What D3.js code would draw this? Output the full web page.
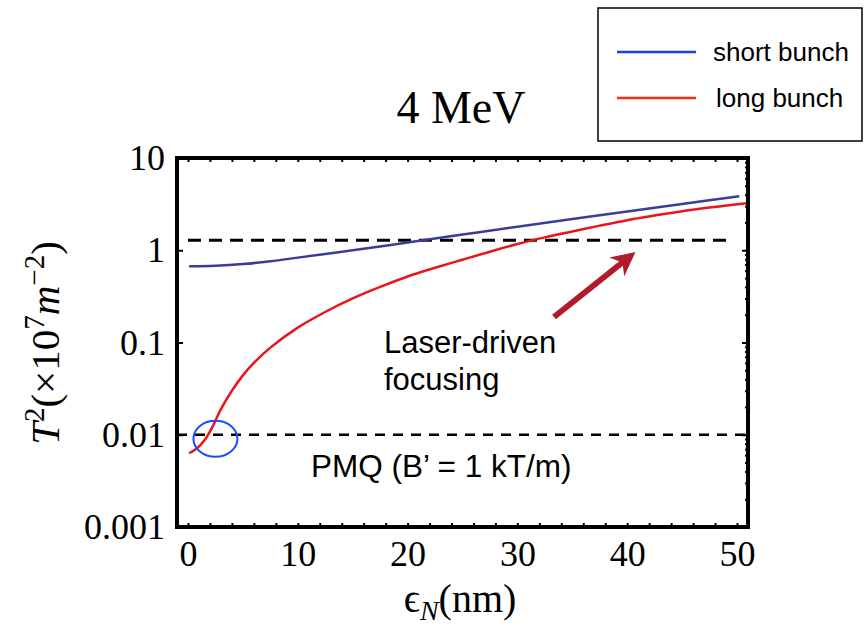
<!DOCTYPE html>
<html>
<head>
<meta charset="utf-8">
<script src="https://cdn.jsdelivr.net/npm/d3@7/dist/d3.min.js"></script>
<style>
  body { margin: 0; background: #fff; }
</style>
</head>
<body>
<svg id="chart" width="867" height="629"></svg>
<script>
// data
const xTicks = [0, 10, 20, 30, 40, 50];
const yTicks = [0.001, 0.01, 0.1, 1, 10];
const yTickLabels = ["0.001", "0.01", "0.1", "1", "10"];

const shortX = [0.1, 2.5, 5, 7.5, 10, 12.5, 15, 17.5, 20, 25, 30, 35, 40, 45, 50.2];
const shortT2 = [0.67, 0.679, 0.708, 0.759, 0.832, 0.912, 1.0, 1.10, 1.216, 1.48, 1.80, 2.18, 2.63, 3.18, 3.86];

const longX = [0.1, 0.8, 1.5, 2.2, 3, 4, 5, 6, 7.5, 10, 12.5, 15, 17.5, 20, 22.5, 25, 27.5, 30, 32.5, 35, 37.5, 40, 42.5, 45, 47.5, 50, 51];
const longT2 = [0.0063, 0.0071, 0.0087, 0.012, 0.019, 0.030, 0.044, 0.060, 0.088, 0.145, 0.214, 0.30, 0.40, 0.52, 0.645, 0.79, 0.965, 1.17, 1.38, 1.60, 1.85, 2.12, 2.38, 2.65, 2.90, 3.15, 3.25];

const laserLevel = 1.28, laserFrom = 0, laserTo = 49.2;
const pmqLevel = 0.01, pmqFrom = -1, pmqTo = 51;

const legendNames = ["short bunch", "long bunch"];
const legendColors = ["#1f3fe6", "#ff2a12"];

const svg = d3.select("#chart");
const margin = {top: 158, right: 119, bottom: 102, left: 177};
const W = +svg.attr("width"), H = +svg.attr("height");

const x = d3.scaleLinear().domain([-1, 51]).range([margin.left, W - margin.right]);
const y = d3.scaleLog().domain([0.001, 10]).range([H - margin.bottom, margin.top]);

const serif = "'Liberation Serif', 'DejaVu Serif', serif";
const sans = "'Liberation Sans', Arial, sans-serif";

// minor ticks
const minorX = d3.range(0, 51, 2);
const minorY = [];
yTicks.slice(0, -1).forEach(d => { for (let k = 2; k < 10; k++) minorY.push(d * k); });

function tickAxis(axis, vals, size) {
  return g => g.call(axis.tickValues(vals).tickSize(size).tickFormat(""))
    .call(g => g.select(".domain").remove())
    .call(g => g.selectAll("line").attr("stroke", "#000").attr("stroke-width", 2));
}
const bottomY = y.range()[0], topY = y.range()[1];
const leftX = x.range()[0], rightX = x.range()[1];

svg.append("g").attr("transform", `translate(0,${bottomY})`).call(tickAxis(d3.axisBottom(x), minorX, -4));
svg.append("g").attr("transform", `translate(0,${topY})`).call(tickAxis(d3.axisTop(x), minorX, -4));
svg.append("g").attr("transform", `translate(${leftX},0)`).call(tickAxis(d3.axisLeft(y), yTicks, -6));
svg.append("g").attr("transform", `translate(${rightX},0)`).call(tickAxis(d3.axisRight(y), yTicks, -6));
svg.append("g").attr("transform", `translate(${rightX},0)`).call(tickAxis(d3.axisRight(y), minorY, -3));

// tick labels
svg.append("g").attr("transform", `translate(0,${bottomY})`)
  .call(d3.axisBottom(x).tickValues(xTicks).tickSize(0).tickPadding(13))
  .call(g => g.select(".domain").remove())
  .selectAll("text").attr("font-family", serif).attr("font-size", 36).attr("fill", "#000");

svg.append("g").attr("transform", `translate(${leftX},0)`)
  .call(d3.axisLeft(y).tickValues(yTicks).tickSize(0).tickPadding(12)
    .tickFormat((d, i) => yTickLabels[i]))
  .call(g => g.select(".domain").remove())
  .selectAll("text").attr("font-family", serif).attr("font-size", 36).attr("fill", "#000");

// dashed reference lines
svg.append("line")
  .attr("x1", x(laserFrom)).attr("x2", x(laserTo))
  .attr("y1", y(laserLevel)).attr("y2", y(laserLevel))
  .attr("stroke", "#000").attr("stroke-width", 3).attr("stroke-dasharray", "13,8");
svg.append("line")
  .attr("x1", x(pmqFrom)).attr("x2", x(pmqTo))
  .attr("y1", y(pmqLevel)).attr("y2", y(pmqLevel))
  .attr("stroke", "#000").attr("stroke-width", 2.5).attr("stroke-dasharray", "10,8");

// curves
const line = d3.line().x(d => x(d[0])).y(d => y(d[1])).curve(d3.curveCatmullRom.alpha(0.5));
svg.append("path").datum(d3.zip(shortX, shortT2))
  .attr("d", line).attr("fill", "none").attr("stroke", "#3b3b98").attr("stroke-width", 2.5);
svg.append("path").datum(d3.zip(longX, longT2))
  .attr("d", line).attr("fill", "none").attr("stroke", "#e8161c").attr("stroke-width", 2.5);

// frame
svg.append("rect")
  .attr("x", leftX).attr("y", topY)
  .attr("width", rightX - leftX).attr("height", bottomY - topY)
  .attr("fill", "none").attr("stroke", "#000").attr("stroke-width", 4);

// title
svg.append("text").attr("x", 461).attr("y", 123).attr("text-anchor", "middle")
  .attr("font-family", serif).attr("font-size", 46).text("4 MeV");

// x axis title
const xt = svg.append("text").attr("x", 460).attr("y", 612).attr("text-anchor", "middle")
  .attr("font-family", serif).attr("font-size", 40);
xt.append("tspan").text("ϵ");
xt.append("tspan").attr("font-style", "italic").attr("font-size", 28).attr("dy", 8).text("N");
xt.append("tspan").attr("dy", -8).text("(nm)");

// y axis title
const yt = svg.append("text")
  .attr("transform", "translate(59,343) rotate(-90)")
  .attr("text-anchor", "middle").attr("font-family", serif).attr("font-size", 41);
yt.append("tspan").attr("font-style", "italic").text("T");
yt.append("tspan").attr("font-size", 29).attr("dy", -15).text("2");
yt.append("tspan").attr("dy", 15).text("(×10");
yt.append("tspan").attr("font-size", 29).attr("dy", -15).text("7");
yt.append("tspan").attr("dy", 15).attr("font-style", "italic").text("m");
yt.append("tspan").attr("font-size", 29).attr("dy", -15).text("−2");
yt.append("tspan").attr("dy", 15).text(")");

// annotations
svg.append("text").attr("x", 384).attr("y", 353).attr("font-family", sans).attr("font-size", 31).text("Laser-driven");
svg.append("text").attr("x", 384).attr("y", 390).attr("font-family", sans).attr("font-size", 31).text("focusing");
svg.append("text").attr("x", 311).attr("y", 477).attr("font-family", sans).attr("font-size", 31.5).text("PMQ (B’ = 1 kT/m)");

// arrow
svg.append("defs").append("marker")
  .attr("id", "head").attr("viewBox", "0 0 10 10").attr("refX", 6).attr("refY", 5)
  .attr("markerWidth", 4).attr("markerHeight", 4).attr("orient", "auto")
  .append("path").attr("d", "M0,0 L10,5 L0,10 L3,5 Z").attr("fill", "#b31b2d");
svg.append("line").attr("x1", 554).attr("y1", 317).attr("x2", 628).attr("y2", 258)
  .attr("stroke", "#b31b2d").attr("stroke-width", 6).attr("marker-end", "url(#head)");

// blue circle on the crossing
svg.append("ellipse").attr("cx", x(2.5)).attr("cy", y(pmqLevel) + 4).attr("rx", 22).attr("ry", 18)
  .attr("fill", "none").attr("stroke", "#1a4dff").attr("stroke-width", 2);

// legend
const lg = svg.append("g");
lg.append("rect").attr("x", 598).attr("y", 8).attr("width", 264).attr("height", 133)
  .attr("fill", "#fff").attr("stroke", "#000").attr("stroke-width", 1.5);
legendNames.forEach((name, i) => {
  const ly = 52 + i * 46;
  lg.append("line").attr("x1", 617).attr("x2", 696).attr("y1", ly).attr("y2", ly)
    .attr("stroke", legendColors[i]).attr("stroke-width", 2.5);
  lg.append("text").attr("x", i === 0 ? 713 : 716).attr("y", ly + 9)
    .attr("font-family", sans).attr("font-size", 26).text(name);
});
</script>
</body>
</html>
